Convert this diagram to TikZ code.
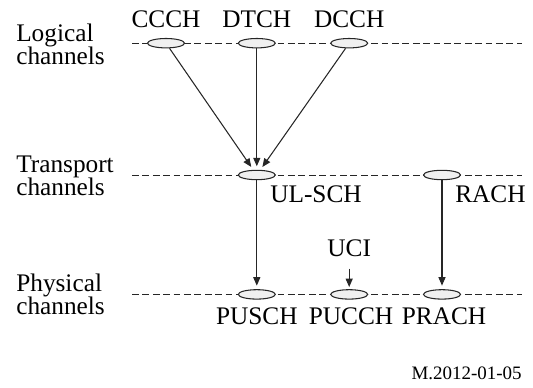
\documentclass[tikz,border=0pt]{standalone}
\usepackage{fontspec}
\setmainfont{Liberation Serif}
\usetikzlibrary{shapes.geometric}
\usetikzlibrary{arrows.meta}

\begin{document}
\begin{tikzpicture}[
        chan/.style = {ellipse, draw = black!85, fill = black!6, line width = 0.75pt,
            minimum width = 0.925cm, minimum height = 0.235cm, inner sep = 0pt},
        lev/.style = {black!85, line width = 0.7pt, dash pattern = on 0.17cm off 0.09cm},
        arr/.style = {black!85, line width = 0.75pt, shorten > = 2.5pt,
            -{Triangle[length = 6pt, width = 5pt]}},
        lbl/.style = {inner sep = 0pt, font = \fontsize{18}{21}\selectfont},
        side/.style = {inner sep = 0pt, anchor = west, align = left,
            font = \fontsize{18}{16.5}\selectfont}]
        \useasboundingbox (0, 0) rectangle (13.325, 9.7);

        % levels
        \coordinate (log0) at (3.3, 8.62);
        \coordinate (log1) at (13.05, 8.62);
        \coordinate (tra0) at (3.3, 5.325);
        \coordinate (tra1) at (13.05, 5.325);
        \coordinate (phy0) at (3.3, 2.34);
        \coordinate (phy1) at (13.05, 2.34);
        \draw[lev] (log0) -- (log1);
        \draw[lev] (tra0) -- (tra1);
        \draw[lev] (phy0) -- (phy1);

        \node[side] (logical) at (0.4, 8.6) {Logical\\channels};
        \node[side] (transport) at (0.4, 5.3) {Transport\\channels};
        \node[side] (physical) at (0.4, 2.35) {Physical\\channels};

        % channels
        \node[chan] (ccch) at (4.15, 8.62) {};
        \node[chan] (dtch) at (6.42, 8.62) {};
        \node[chan] (dcch) at (8.73, 8.62) {};
        \node[chan] (ulsch) at (6.42, 5.325) {};
        \node[chan] (rach) at (11.05, 5.325) {};
        \node[chan] (pusch) at (6.42, 2.34) {};
        \node[chan] (pucch) at (8.73, 2.34) {};
        \node[chan] (prach) at (11.05, 2.34) {};

        \node[lbl, anchor = base] (ccchlbl) at (4.15, 9.0) {CCCH};
        \node[lbl, anchor = base] (dtchlbl) at (6.42, 9.0) {DTCH};
        \node[lbl, anchor = base] (dcchlbl) at (8.73, 9.0) {DCCH};
        \node[lbl, anchor = base west] (ulschlbl) at (6.75, 4.625) {UL-SCH};
        \node[lbl, anchor = base west] (rachlbl) at (11.375, 4.625) {RACH};
        \node[lbl, anchor = base] (uci) at (8.73, 3.28) {UCI};
        \node[lbl, anchor = base] (puschlbl) at (6.42, 1.575) {PUSCH};
        \node[lbl, anchor = base] (pucchlbl) at (8.775, 1.575) {PUCCH};
        \node[lbl, anchor = base] (prachlbl) at (11.1, 1.575) {PRACH};

        \node[inner sep = 0pt, anchor = base east, font = \fontsize{13.5}{16}\selectfont]
            (figno) at (13.05, 0.2) {M.2012-01-05};

        % mapping
        \draw[arr] (ccch) -- (ulsch);
        \draw[arr] (dtch) -- (ulsch);
        \draw[arr] (dcch) -- (ulsch);
        \draw[arr] (ulsch) -- (pusch);
        \draw[arr] (rach) -- (prach);
        \draw[arr, shorten < = 0.28cm, shorten > = 1.5pt] (uci) -- (pucch);
\end{tikzpicture}
\end{document}
